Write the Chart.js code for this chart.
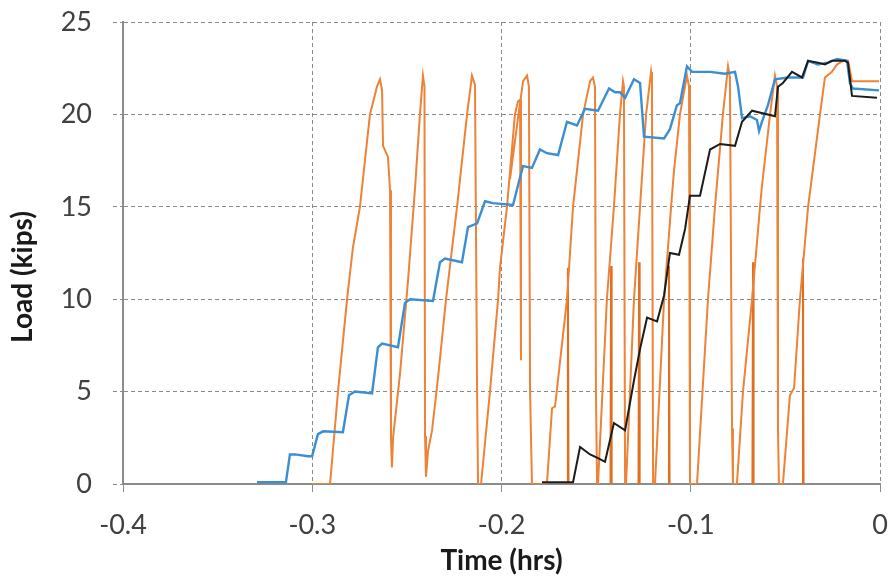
<!DOCTYPE html>
<html>
<head>
<meta charset="utf-8">
<title>Load vs time</title>
<script src="https://cdn.jsdelivr.net/npm/chart.js@4.4.1/dist/chart.umd.min.js"></script>
<style>
  html, body { margin: 0; padding: 0; background: #fff; }
  #wrap { width: 893px; height: 578px; }
</style>
</head>
<body>
<div id="wrap"><canvas id="loadChart" width="893" height="578"></canvas></div>
<script>
// Blue curve (staircase)
const blueTime = [-0.3292, -0.3139, -0.3118, -0.3091, -0.3022, -0.3001, -0.2970, -0.2943, -0.2838, -0.2806,
    -0.2774, -0.2684, -0.2653, -0.2631, -0.2547, -0.2510, -0.2483, -0.2362, -0.2325, -0.2299,
    -0.2209, -0.2177, -0.2129, -0.2087, -0.2045, -0.1939, -0.1902, -0.1886, -0.1839, -0.1797,
    -0.1760, -0.1701, -0.1654, -0.1601, -0.1559, -0.1490, -0.1432, -0.1400, -0.1374, -0.1347,
    -0.1300, -0.1268, -0.1247, -0.1141, -0.1110, -0.1073, -0.1057, -0.1020, -0.0993, -0.0956,
    -0.0898, -0.0819, -0.0766, -0.0750, -0.0729, -0.0687, -0.0650, -0.0639, -0.0624, -0.0592,
    -0.0555, -0.0486, -0.0407, -0.0380, -0.0328, -0.0275, -0.0227, -0.0174, -0.0159, -0.0143, -0.0005];
const blueLoad = [0.1, 0.1, 1.6, 1.6, 1.5, 1.5, 2.7, 2.85, 2.8, 4.8,
    5.0, 4.9, 7.4, 7.6, 7.4, 9.8, 10.0, 9.9, 12.0, 12.2,
    12.0, 13.9, 14.1, 15.3, 15.2, 15.1, 16.6, 17.2, 17.1, 18.1,
    17.9, 17.8, 19.6, 19.4, 20.3, 20.2, 21.4, 21.2, 21.2, 20.9,
    21.9, 21.7, 18.8, 18.7, 19.2, 20.5, 20.6, 22.6, 22.3, 22.3,
    22.3, 22.2, 22.3, 21.5, 19.8, 19.9, 19.7, 19.1, 19.6, 20.5,
    21.9, 22.0, 22.0, 22.9, 22.7, 22.8, 23.0, 22.9, 21.7, 21.4, 21.3];

// Black curve
const blackTime = [-0.1786, -0.1622, -0.1585, -0.1532, -0.1490, -0.1453, -0.1406, -0.1347, -0.1300, -0.1268,
    -0.1231, -0.1178, -0.1141, -0.1110, -0.1062, -0.1030, -0.1004, -0.0951, -0.0898, -0.0845,
    -0.0766, -0.0729, -0.0676, -0.0555, -0.0539, -0.0513, -0.0465, -0.0412, -0.0380, -0.0328,
    -0.0291, -0.0254, -0.0185, -0.0169, -0.0148, -0.0016];
const blackLoad = [0.1, 0.1, 2.0, 1.6, 1.4, 1.2, 3.3, 2.9, 5.6, 7.3,
    9.0, 8.8, 10.2, 12.5, 12.4, 13.8, 15.6, 15.6, 18.1, 18.4,
    18.3, 19.6, 20.2, 19.9, 21.5, 21.7, 22.3, 22.0, 22.9, 22.8,
    22.7, 22.9, 22.9, 22.8, 21.0, 20.9];

// Orange curve (load cycles), null = break in the line
const orangeTime = [-0.3000, -0.2906, -0.2864, -0.2816, -0.2785, -0.2748, -0.2711, -0.2695, -0.2658, -0.2642,
    -0.2631, -0.2626, -0.2600, -0.2589, -0.2584, -0.2579, -0.2573, -0.2536, -0.2494, -0.2457,
    -0.2431, -0.2415, -0.2407, -0.2404, -0.2399, -0.2388, -0.2367, -0.2336, -0.2293, -0.2235,
    -0.2182, -0.2156, -0.2140, -0.2129, -0.2124, -0.2108, -0.2061, -0.2018, -0.2008, -0.1971,
    -0.1929, -0.1913, -0.1902, -0.1897, -0.1897,
    -0.1955, -0.1913, -0.1886, -0.1865, -0.1855, -0.1849, -0.1839, -0.1760, -0.1733, -0.1717,
    -0.1654, -0.1622, -0.1569, -0.1532, -0.1517, -0.1506, -0.1501, -0.1495, -0.1490, -0.1443,
    -0.1406, -0.1374, -0.1358, -0.1353, -0.1347, -0.1342, -0.1300, -0.1268, -0.1236, -0.1210,
    -0.1205, -0.1199, -0.1189, -0.1141, -0.1104, -0.1089, -0.1057, -0.1020, -0.1009, -0.1004,
    -0.0967, -0.0909, -0.0872, -0.0830, -0.0803, -0.0793, -0.0782, -0.0777, -0.0756, -0.0724,
    -0.0676, -0.0634, -0.0624, -0.0581, -0.0555, -0.0544, -0.0539, -0.0534, -0.0513, -0.0476,
    -0.0454, -0.0423, -0.0380, -0.0317, -0.0291, -0.0254, -0.0227, -0.0196, -0.0169, -0.0148, -0.0005];
const orangeLoad = [0, 0, 5, 10, 12.8, 15, 18.5, 20, 21.5, 21.9,
    21.3, 18.3, 17.7, 15.9, 2.5, 0.9, 2.5, 6, 11, 16,
    20, 22.1, 21.5, 2.6, 0.4, 1.8, 2.9, 5.7, 10, 15,
    20, 22.1, 21.6, 5, 0, 0, 5, 10, 11.7, 15,
    20, 20.7, 20.8, 6.7, null,
    16.5, 19.8, 21.8, 22.1, 21.5, 5, 0, 0, 4.1, 4.2,
    10, 15, 20, 21.8, 22, 21.5, 5, 0, 0, 10,
    15, 20, 21.8, 21.5, 0, 0, 10, 15, 20, 22.3,
    21.8, 0, 0, 10, 15, 16.9, 20, 22.1, 21.5, 0,
    0, 10, 15, 20, 22.6, 22.0, 3, 0, 0, 5,
    10, 15, 16.1, 20, 22.1, 21.5, 3, 0, 0, 4.8,
    5.2, 10, 15, 20, 22.0, 22.3, 22.7, 22.9, 22.9, 21.8, 21.8];

// Short orange spikes (up and straight back down)
const spikeTime = [-0.1652, -0.1649, -0.1646, null, -0.1424, -0.1421, -0.1418, null,
    -0.1276, -0.1273, -0.1270, null, -0.1118, -0.1115, -0.1112, null,
    -0.0674, -0.0671, -0.0668, null, -0.0410, -0.0407, -0.0404];
const spikeLoad = [0, 11.7, 0, null, 0, 11.8, 0, null,
    0, 12.0, 0, null, 0, 11.8, 0, null,
    0, 12.0, 0, null, 0, 12.2, 0];

const xTicks = [-0.4, -0.3, -0.2, -0.1, 0];
const xTitle = 'Time (hrs)';
const yTitle = 'Load (kips)';

function toPoints(xs, ys) {
    return xs.map((x, i) => ({ x: x === null ? xs[i - 1] : x, y: ys[i] }));
}

const gridColor = '#8a8a8a';
const tickFont = { family: 'Lato', size: 27 };
const titleFont = { family: 'Lato', size: 28, weight: 'bold' };

// Titel sumbu Y digambar sendiri supaya posisinya sedikit di bawah tengah (seperti aslinya)
const yTitlePlugin = {
    id: 'yTitle',
    afterDraw(chart) {
        const { ctx, chartArea } = chart;
        ctx.save();
        ctx.translate(23, (chartArea.top + chartArea.bottom) / 2 + 24);
        ctx.rotate(-Math.PI / 2);
        ctx.font = 'bold 28px Lato';
        ctx.fillStyle = '#1a1a1a';
        ctx.textAlign = 'center';
        ctx.textBaseline = 'middle';
        ctx.fillText(yTitle, 0, 0);
        ctx.restore();
    }
};

const ctx = document.getElementById('loadChart').getContext('2d');
const loadChart = new Chart(ctx, {
    type: 'line',
    data: {
        datasets: [
            {
                label: 'Black',
                data: toPoints(blackTime, blackLoad),
                borderColor: '#1c1c1c',
                borderWidth: 2
            },
            {
                label: 'Blue',
                data: toPoints(blueTime, blueLoad),
                borderColor: '#3a8fd4',
                borderWidth: 2.4
            },
            {
                label: 'Orange',
                data: toPoints(orangeTime, orangeLoad),
                borderColor: '#ee8236',
                borderWidth: 2
            },
            {
                label: 'Orange spikes',
                data: toPoints(spikeTime, spikeLoad),
                borderColor: '#e07020',
                borderWidth: 2
            }
        ]
    },
    options: {
        responsive: false,
        devicePixelRatio: 1,
        animation: false,
        layout: { padding: { top: 22, right: 13, left: 0, bottom: 0 } },
        elements: { point: { radius: 0 }, line: { tension: 0 } },
        plugins: { legend: { display: false }, tooltip: { enabled: false } },
        scales: {
            x: {
                type: 'linear',
                min: -0.4,
                max: 0,
                afterBuildTicks: (scale) => { scale.ticks = xTicks.map(v => ({ value: v })); },
                ticks: {
                    font: tickFont,
                    color: '#404040',
                    padding: 17,
                    maxRotation: 0,
                    callback: (v) => (v === 0 ? '0' : v.toFixed(1))
                },
                grid: { color: gridColor, lineWidth: 1, tickLength: 8, tickColor: gridColor },
                border: { display: true, color: '#8c8c8c', width: 2, dash: [4, 3] },
                title: { display: true, text: xTitle, font: titleFont, color: '#1a1a1a', padding: { top: 0, bottom: 0 } },
                afterFit: (scale) => { scale.height = 94; scale.paddingLeft = 0; scale.paddingRight = 0; }
            },
            y: {
                min: 0,
                max: 25,
                ticks: { stepSize: 5, font: tickFont, color: '#404040', padding: 21 },
                grid: { color: gridColor, lineWidth: 1, tickLength: 10, tickColor: gridColor, tickBorderDash: [4, 3] },
                border: { display: true, color: '#8c8c8c', width: 2, dash: [4, 3] },
                title: { display: false },
                afterFit: (scale) => { scale.width = 123; scale.paddingTop = 0; scale.paddingBottom = 0; }
            }
        }
    },
    plugins: [yTitlePlugin]
});
</script>
</body>
</html>
